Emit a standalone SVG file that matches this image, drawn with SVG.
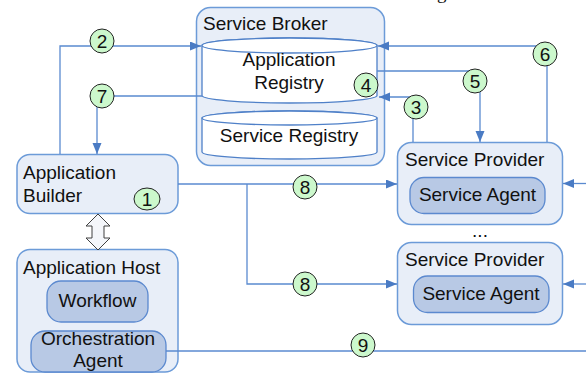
<svg xmlns="http://www.w3.org/2000/svg" width="586" height="374" viewBox="0 0 586 374">
  <defs>
    <marker id="arrow" markerUnits="userSpaceOnUse" markerWidth="12" markerHeight="10" refX="11" refY="4.5" orient="auto">
      <path d="M0,0 L11,4.5 L0,9 z" fill="#4a7bc4"/>
    </marker>
    <style>
      text { font-family: "Liberation Sans", Arial, sans-serif; fill: #111; }
      .lbl { font-size: 19px; }
      .mid { text-anchor: middle; }
      .box { fill: #e8eef8; stroke: #6c9bd8; stroke-width: 1.5; }
      .inner { fill: #b8c9e5; stroke: #5b89cf; stroke-width: 1.3; }
      .cyl { fill: #ffffff; stroke: #4f80c8; stroke-width: 1.3; }
      .conn { fill: none; stroke: #5a8ad0; stroke-width: 1.3; }
      .num circle, .num ellipse { fill: #ccf8cc; stroke: #222; stroke-width: 1; }
      .num text { font-size: 19px; text-anchor: middle; }
    </style>
  </defs>

  <!-- caption fragment at top edge -->
  <text x="437" y="-1" style="font-family:'Liberation Serif', serif; font-size:19px;">g</text>

  <!-- Service Broker with its two registries -->
  <g id="service-broker">
    <rect class="box" x="196.5" y="7.5" width="188" height="158" rx="14"/>
    <text class="lbl" x="203" y="30">Service Broker</text>
  </g>
  <g id="application-registry">
    <path class="cyl" d="M202,45.5 L202,95.5 A87.5,7.5 0 0 0 377,95.5 L377,45.5 A87.5,7.5 0 0 0 202,45.5 z"/>
    <ellipse class="cyl" cx="289.5" cy="45.5" rx="87.5" ry="7.5"/>
    <text class="lbl mid" x="289" y="66">Application</text>
    <text class="lbl mid" x="289" y="89">Registry</text>
  </g>
  <g id="service-registry">
    <path class="cyl" d="M202,118 L202,152 A87.5,7 0 0 0 377,152 L377,118 A87.5,7 0 0 0 202,118 z"/>
    <ellipse class="cyl" cx="289.5" cy="118" rx="87.5" ry="7"/>
    <text class="lbl mid" x="289" y="142">Service Registry</text>
  </g>

  <!-- Application Builder -->
  <g id="application-builder">
    <rect class="box" x="17" y="154.5" width="161" height="59" rx="13"/>
    <text class="lbl" x="23" y="179">Application</text>
    <text class="lbl" x="23" y="202">Builder</text>
  </g>

  <!-- Application Host -->
  <g id="application-host">
    <rect class="box" x="17" y="249.5" width="161" height="122.5" rx="13"/>
    <text class="lbl" x="23" y="274">Application Host</text>
  </g>
  <g id="workflow">
    <rect class="inner" x="47" y="281" width="101" height="41" rx="14"/>
    <text class="lbl mid" x="97.5" y="307">Workflow</text>
  </g>
  <g id="orchestration-agent">
    <rect class="inner" x="31" y="331" width="135" height="41" rx="14"/>
    <text class="lbl mid" x="98" y="345">Orchestration</text>
    <text class="lbl mid" x="98" y="367">Agent</text>
  </g>

  <!-- Service Providers -->
  <g id="service-provider-1">
    <rect class="box" x="397.5" y="142.5" width="165" height="82" rx="14"/>
    <text class="lbl" x="405" y="166">Service Provider</text>
  </g>
  <g id="service-agent-1">
    <rect class="inner" x="410" y="177.5" width="135" height="36" rx="14"/>
    <text class="lbl mid" x="477.5" y="201">Service Agent</text>
  </g>
  <text class="lbl mid" x="480" y="237">...</text>
  <g id="service-provider-2">
    <rect class="box" x="397.5" y="242.5" width="165" height="82" rx="14"/>
    <text class="lbl" x="405" y="266">Service Provider</text>
  </g>
  <g id="service-agent-2">
    <rect class="inner" x="413.5" y="276" width="135.5" height="36.5" rx="14"/>
    <text class="lbl mid" x="481" y="300">Service Agent</text>
  </g>

  <!-- Connectors -->
  <g id="connectors">
    <path class="conn" d="M60,154 V46 H201" marker-end="url(#arrow)"/>
    <path class="conn" d="M202,96 H97 V154" marker-end="url(#arrow)"/>
    <path class="conn" d="M547,142 V46 H378" marker-end="url(#arrow)"/>
    <path class="conn" d="M377,71 H480 V142" marker-end="url(#arrow)"/>
    <path class="conn" d="M413,142 V97 H379" marker-end="url(#arrow)"/>
    <path class="conn" d="M178,184 H397" marker-end="url(#arrow)"/>
    <path class="conn" d="M247,184 V284 H397" marker-end="url(#arrow)"/>
    <path class="conn" d="M586,183.5 H563" marker-end="url(#arrow)"/>
    <path class="conn" d="M586,284 H563" marker-end="url(#arrow)"/>
    <path class="conn" d="M166,351 H586"/>
    <!-- builder / host exchange -->
    <polygon points="98,214 110,226 104,226 104,238 110,238 98,250 86,238 92,238 92,226 86,226" fill="#f4f6fa" stroke="#404040" stroke-width="1"/>
  </g>

  <!-- Step numbers -->
  <g id="step-labels" class="num">
    <ellipse cx="147" cy="199" rx="13" ry="11"/><text x="147" y="206">1</text>
    <circle cx="102" cy="41" r="12"/><text x="102" y="48">2</text>
    <circle cx="416" cy="107" r="12"/><text x="416" y="114">3</text>
    <circle cx="366" cy="85" r="12"/><text x="366" y="92">4</text>
    <circle cx="475" cy="81" r="12"/><text x="475" y="88">5</text>
    <circle cx="545" cy="54" r="12"/><text x="545" y="61">6</text>
    <circle cx="102" cy="96" r="12"/><text x="102" y="103">7</text>
    <circle cx="305" cy="187" r="12"/><text x="305" y="194">8</text>
    <circle cx="305" cy="284" r="12"/><text x="305" y="291">8</text>
    <circle cx="363" cy="345" r="12"/><text x="363" y="352">9</text>
  </g>
</svg>
